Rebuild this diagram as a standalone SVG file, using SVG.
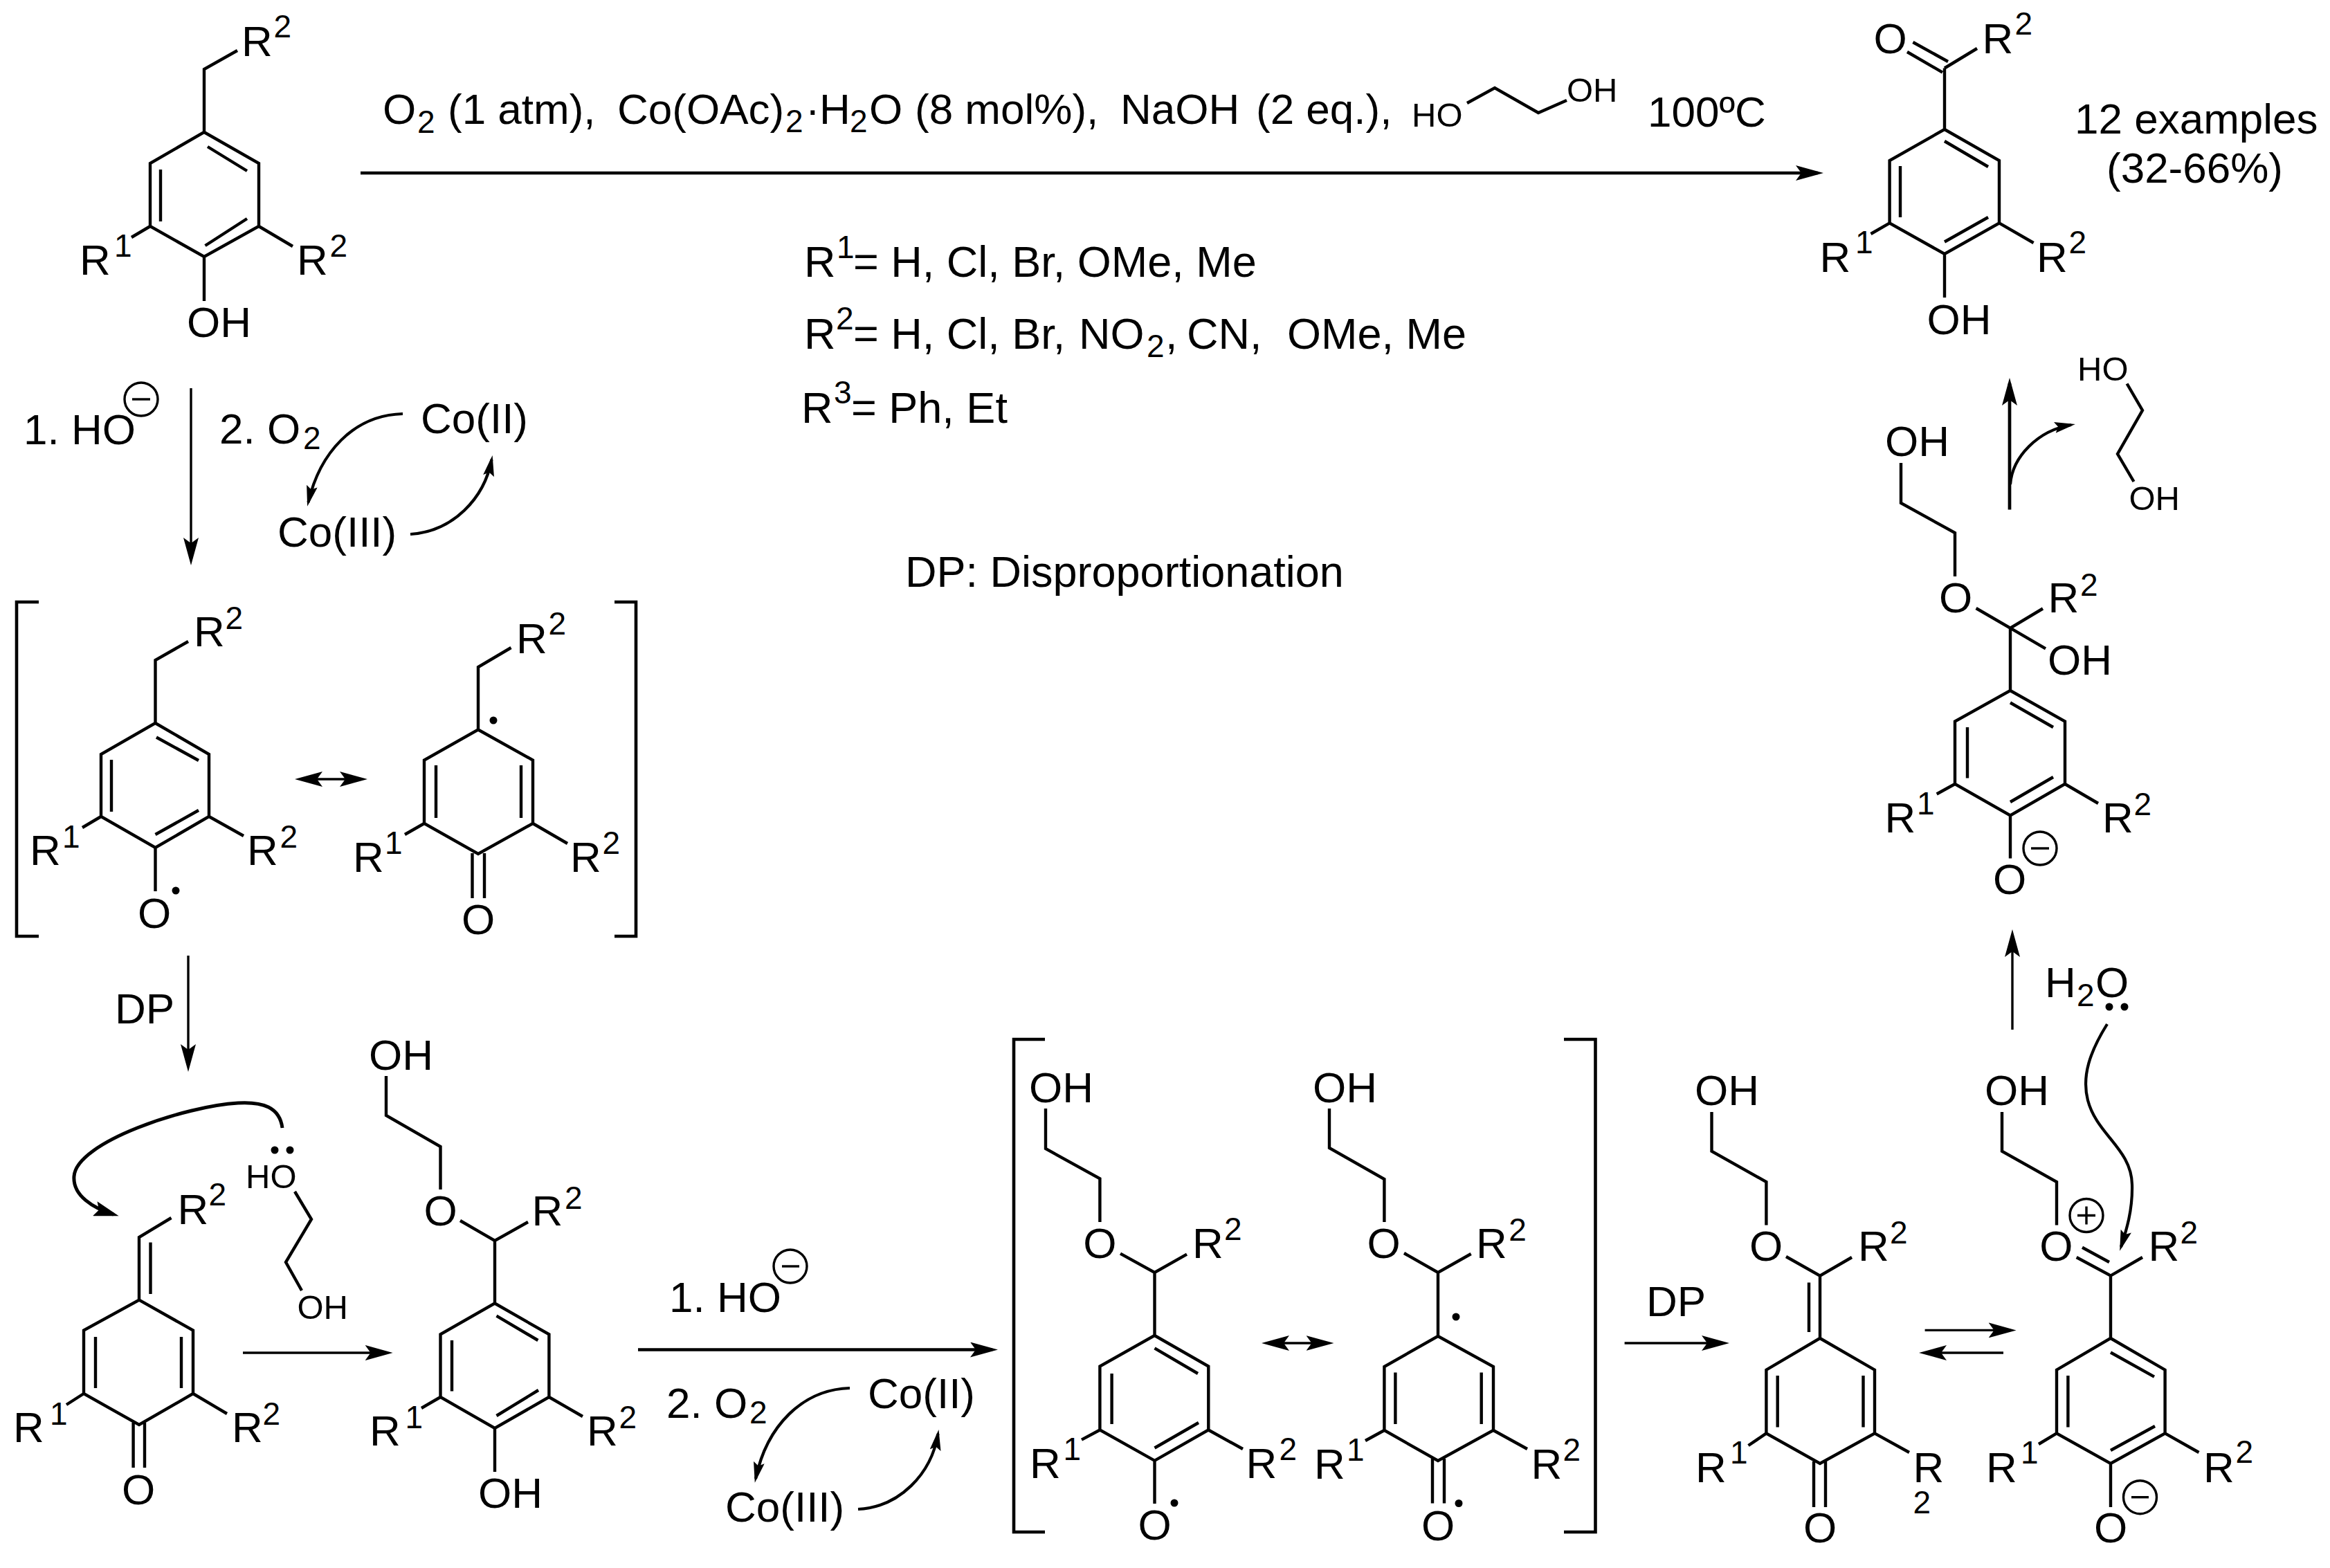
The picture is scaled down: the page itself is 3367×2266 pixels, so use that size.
<svg xmlns="http://www.w3.org/2000/svg" width="3367" height="2266" viewBox="0 0 3367 2266">
<style>
text{font-family:"Liberation Sans",Arial,sans-serif;font-size:62px;fill:#000}
.s{font-size:46px}
.g{font-size:49px}
.n{font-size:63px}
.mid{text-anchor:middle}
.b{fill:none;stroke:#000;stroke-width:4.4}
.k{fill:none;stroke:#000;stroke-width:4.6}
.a{fill:none;stroke:#000;stroke-width:3.4;marker-end:url(#h)}
.a2{fill:none;stroke:#000;stroke-width:3.4;marker-start:url(#h);marker-end:url(#h)}
.at{fill:none;stroke:#000;stroke-width:4.7;marker-end:url(#h)}
.c{fill:none;stroke:#000;stroke-width:4.2;marker-end:url(#m)}
.cl{fill:none;stroke:#000;stroke-width:5;marker-end:url(#l)}
.q{fill:none;stroke:#000;stroke-width:3.4}
</style>
<defs>
<marker id="h" markerUnits="userSpaceOnUse" markerWidth="40" markerHeight="22" refX="32" refY="11" orient="auto-start-reverse"><path d="M40 11L0 0L8 11L0 22Z"/></marker>
<marker id="m" markerUnits="userSpaceOnUse" markerWidth="30" markerHeight="16" refX="24" refY="8" orient="auto"><path d="M30 8L0 0L5 8L0 16Z"/></marker>
<marker id="l" markerUnits="userSpaceOnUse" markerWidth="36" markerHeight="22" refX="28" refY="11" orient="auto"><path d="M36 11L0 0L6 11L0 22Z"/></marker>
</defs>

<g id="connectors">
<path class="a" d="M276 561V809"/>
<path class="a" d="M272 1381V1541"/>
<path class="at" d="M521 250H2627"/>
<path class="a2" d="M434 1126H523"/>
<path class="a" d="M351 1955H559.6"/>
<path class="at" d="M922 1950.5H1434"/>
<path class="a2" d="M1831 1941H1919.5"/>
<path class="a" d="M2347.6 1941H2491"/>
<path class="a" d="M2781.6 1922.4H2905.6"/>
<path class="a" d="M2895 1955H2781"/>
<path class="a" d="M2908 1488V1351"/>
<path class="at" d="M2904 736.5V554"/>
<path class="c" d="M582 598C510 600 462 655 445.500 726"/>
<path class="c" d="M593 772C655 768 700 720 710.500 664"/>
<path class="c" d="M1228 2006C1160 2008 1108 2060 1092 2137"/>
<path class="c" d="M1240 2181C1300 2178 1346 2130 1355.500 2072"/>
<path class="c" d="M2905 700C2908 660 2945 622 2993 614"/>
<path class="c" d="M3045 1480C3020 1520 3008 1555 3017 1590C3030 1640 3080 1660 3081 1712C3082 1750 3072 1780 3065 1802"/>
<path class="cl" d="M408 1630C404 1600 380 1592 344 1594C270 1598 110 1650 107 1700C105 1728 135 1746 164 1755"/>
</g>

<g id="brackets">
<path class="k" d="M56 870H24V1353H56"/>
<path class="k" d="M888 870H919V1353H888"/>
<path class="k" d="M1510 1502H1465V2214H1510"/>
<path class="k" d="M2260 1502H2305.500V2214H2260"/>
</g>

<g id="conditions">
<text y="179"><tspan x="553">O</tspan><tspan class="s" x="603" y="192">2</tspan><tspan x="647" y="179">(1 atm),</tspan><tspan x="892">Co(OAc)</tspan><tspan class="s" x="1135" y="191">2</tspan><tspan x="1164" y="179">·</tspan><tspan x="1184">H</tspan><tspan class="s" x="1228" y="191">2</tspan><tspan x="1256" y="179">O</tspan><tspan x="1322">(8 mol%),</tspan><tspan x="1619">NaOH</tspan><tspan x="1815">(2 eq.),</tspan></text>
<path class="b" d="M2120 149L2160 127L2223 163L2264 145"/>
<text class="g" x="2040" y="183">HO</text>
<text class="g" x="2264" y="147">OH</text>
<text x="2381" y="183">100ºC</text>
<text class="n" y="400"><tspan x="1162">R</tspan><tspan class="s" x="1209" y="373">1</tspan><tspan x="1233" y="400">= H, Cl, Br, OMe, Me</tspan></text>
<text class="n" y="503.500"><tspan x="1162">R</tspan><tspan class="s" x="1208" y="476">2</tspan><tspan x="1233" y="503.500">= H, Cl, Br,</tspan><tspan x="1559">NO</tspan><tspan class="s" x="1657" y="516">2</tspan><tspan x="1684" y="503.500">,</tspan><tspan x="1715">CN,</tspan><tspan x="1860">OMe, Me</tspan></text>
<text class="n" y="610.600"><tspan x="1158">R</tspan><tspan class="s" x="1205" y="583">3</tspan><tspan x="1230" y="610.600">= Ph, Et</tspan></text>
<text class="n" x="1308" y="848">DP: Disproportionation</text>
<text x="2998" y="193">12 examples</text>
<text x="3044" y="264">(32-66%)</text>
</g>

<g id="step1-reagents">
<text y="642"><tspan x="34">1. HO</tspan></text>
<circle class="q" cx="204" cy="577" r="24"/><path class="q" d="M191 577H217"/>
<text y="641"><tspan x="317">2. O</tspan><tspan class="s" x="438" y="649">2</tspan></text>
<text x="608" y="626">Co(II)</text>
<text x="401" y="790">Co(III)</text>
<text x="166" y="1478.500">DP</text>
</g>

<g id="step5-reagents">
<text y="1896.400"><tspan x="967">1. HO</tspan></text>
<circle class="q" cx="1142" cy="1830" r="24"/><path class="q" d="M1130 1830H1155"/>
<text y="2049.400"><tspan x="963">2. O</tspan><tspan class="s" x="1083" y="2057">2</tspan></text>
<text x="1254" y="2035">Co(II)</text>
<text x="1048" y="2199">Co(III)</text>
<text x="2379" y="1902">DP</text>
</g>

<g id="m1">
<path class="b" d="M343 73L295 100V191L217 236V327L295 371L374 327V236L295 191M300 212L357 247M232 245V320M296.500 355L357 316M295 371V435M217 327L190 343M374 327L423 356"/>
<text x="349" y="81">R<tspan class="s" x="395.500" y="54">2</tspan></text>
<text x="115" y="397">R<tspan class="s" x="165" y="371">1</tspan></text>
<text x="429" y="397">R<tspan class="s" x="476.500" y="371">2</tspan></text>
<text x="270" y="486.700">OH</text>
</g>

<g id="m2">
<path class="b" d="M272 927L224.500 954V1045L146 1090V1180L224.500 1225L302 1180V1090L224.500 1045M226 1065.500L287 1099M161 1098V1173M224.500 1206L287 1171M224.500 1225V1288M146 1180L119 1196M302 1180L352 1208"/>
<text x="280" y="934">R<tspan class="s" x="325.500" y="909">2</tspan></text>
<text x="43" y="1250">R<tspan class="s" x="90" y="1225">1</tspan></text>
<text x="357" y="1250">R<tspan class="s" x="404.500" y="1225">2</tspan></text>
<text class="mid" x="223" y="1341">O</text>
<circle cx="254" cy="1287" r="5.500"/>
</g>

<g id="m3">
<path class="b" d="M738.500 936L691 964V1054.500L613 1098.500V1190L691 1234L770 1190V1098.500L691 1054.500M613 1190L585 1206M770 1190L820 1219M630 1106V1182M753 1106V1182M682.500 1233V1298M700 1233V1298"/>
<text x="746" y="943.500">R<tspan class="s" x="792.500" y="917">2</tspan></text>
<text x="510" y="1260">R<tspan class="s" x="556" y="1234">1</tspan></text>
<text x="824" y="1260">R<tspan class="s" x="870.500" y="1234">2</tspan></text>
<text class="mid" x="691" y="1350">O</text>
<circle cx="713" cy="1041" r="5.500"/>
</g>

<g id="m4">
<path class="b" d="M247.500 1760L201 1788V1878.600L121 1922.600V2014L201 2059L279 2014V1922.600L201 1878.600M217.500 1795.500V1870M138 1932V2006M262 1932V2006M121 2014L96 2030M279 2014L328 2043M192.600 2056V2121M209 2056V2121"/>
<text x="256.500" y="1769">R<tspan class="s" x="301.500" y="1742">2</tspan></text>
<text x="19" y="2084">R<tspan class="s" x="72" y="2059">1</tspan></text>
<text x="335" y="2084">R<tspan class="s" x="379.500" y="2059">2</tspan></text>
<text class="mid" x="200" y="2174">O</text>
</g>

<g id="glycol-nucleophile">
<path class="b" d="M426 1722L450 1762L413 1824L436 1865"/>
<text class="g" x="355" y="1717">HO</text>
<text class="g" x="429.500" y="1905.500">OH</text>
<circle cx="397" cy="1662" r="5.500"/><circle cx="419" cy="1662" r="5.500"/>
</g>

<g id="m5">
<path class="b" d="M558 1555V1612L636.500 1657V1719M665 1764L715 1793L763 1766M715 1793V1883.500L636.500 1928.400V2019L715 2064L793.400 2019V1928.400L715 1883.500M717.500 1901.600L777.400 1937M653 1937V2010.500M717.500 2046L778 2009M715 2064V2127M636.500 2019L609 2035M793.400 2019L842 2047"/>
<text x="533" y="1546">OH</text>
<text class="mid" x="636.500" y="1771">O</text>
<text x="768.600" y="1771">R<tspan class="s" x="816" y="1747">2</tspan></text>
<text x="691" y="2179">OH</text>
<text x="534" y="2089">R<tspan class="s" x="585.500" y="2064">1</tspan></text>
<text x="848" y="2089">R<tspan class="s" x="894.500" y="2064">2</tspan></text>
</g>

<g id="m6">
<path class="b" d="M1511 1602V1660L1589.400 1703.400V1766M1619 1811.600L1668.500 1839L1715 1812.600M1668.500 1839V1930L1589.400 1974.500V2066.500L1668.500 2110.800L1746.300 2066.500V1974.500L1668.500 1930M1668.500 1948.400L1731 1985M1606.600 1985V2058M1668.500 2092.500L1732 2056M1668.500 2110.800V2173M1589.400 2066.500L1563 2080.600M1746.300 2066.500L1796 2094"/>
<text x="1487" y="1593">OH</text>
<text class="mid" x="1589.400" y="1818">O</text>
<text x="1723" y="1818">R<tspan class="s" x="1769" y="1792">2</tspan></text>
<text class="mid" x="1668.500" y="2225">O</text>
<circle cx="1697" cy="2172" r="5.500"/>
<text x="1488" y="2136">R<tspan class="s" x="1536.500" y="2110">1</tspan></text>
<text x="1800.600" y="2136">R<tspan class="s" x="1848.500" y="2110">2</tspan></text>
</g>

<g id="m7">
<path class="b" d="M1921 1602V1659L2000.400 1704V1766M2029 1811L2078 1839L2125.700 1812M2078 1839V1931L2000.400 1975V2067L2078 2111L2158 2067V1975L2078 1931M2016.400 1983.500V2058M2140.700 1983.500V2058M2000.400 2067L1973 2082M2158 2067L2207 2094M2070 2108V2172.500M2087 2108V2172.500"/>
<text x="1897" y="1593.400">OH</text>
<text class="mid" x="1999.600" y="1818">O</text>
<text x="2133" y="1818">R<tspan class="s" x="2180.300" y="1793">2</tspan></text>
<circle cx="2104" cy="1903" r="5.500"/>
<text x="1899" y="2136.700">R<tspan class="s" x="1946" y="2111">1</tspan></text>
<text x="2212.500" y="2136.700">R<tspan class="s" x="2258.500" y="2111">2</tspan></text>
<text class="mid" x="2078" y="2226">O</text>
<circle cx="2108" cy="2172.500" r="5.500"/>
</g>

<g id="m8">
<path class="b" d="M2473.500 1607V1663.700L2552.400 1708V1770.600M2581 1816L2630 1843.600L2676 1817M2630 1843.600V1934L2552.400 1979.700V2071.400L2630 2115L2709 2071.400V1979.700L2630 1934M2614 1853.500V1925M2568.700 1988V2062.600M2692.500 1988V2062.600M2552.400 2071.400L2526.500 2089M2709 2071.400L2759 2099M2621 2112V2178M2638 2112V2178"/>
<text x="2449" y="1596.500">OH</text>
<text class="mid" x="2552" y="1822">O</text>
<text x="2685" y="1822">R<tspan class="s" x="2731" y="1797">2</tspan></text>
<text x="2450" y="2141.500">R<tspan class="s" x="2500" y="2115">1</tspan></text>
<text x="2764.400" y="2141.500">R<tspan class="s" x="2764.500" y="2186.500">2</tspan></text>
<text class="mid" x="2630" y="2229">O</text>
</g>

<g id="m9">
<path class="b" d="M2893 1607V1663.700L2972 1708V1770.600M3000.700 1817L3050 1843.600L3096 1817M3009 1802.700L3048 1824M3050 1843.600V1934L2972 1979.700V2071.400L3050 2115L3128.600 2071.400V1979.700L3050 1934M3050 1954.500L3113 1989.600M2988.400 1988V2062.600M3050 2096L3114 2061M3050 2115V2178M2972 2071.400L2946 2087M3128.600 2071.400L3177.500 2099"/>
<text x="2868" y="1596.500">OH</text>
<text class="mid" x="2971.400" y="1822">O</text>
<circle class="q" cx="3015" cy="1756.500" r="24"/><path class="q" d="M3002 1756.500H3028M3015 1743.500V1769.500"/>
<text x="3104.500" y="1822">R<tspan class="s" x="3150.500" y="1797">2</tspan></text>
<text x="2870" y="2141.500">R<tspan class="s" x="2920" y="2115">1</tspan></text>
<text x="3184" y="2141.500">R<tspan class="s" x="3230.500" y="2114">2</tspan></text>
<text class="mid" x="3050" y="2229">O</text>
<circle class="q" cx="3092.500" cy="2163.700" r="24"/><path class="q" d="M3080 2163.700H3105"/>
</g>

<g id="water">
<text y="1440.500"><tspan x="2955">H</tspan><tspan class="s" x="3001" y="1454">2</tspan><tspan x="3028" y="1440.500">O</tspan></text>
<circle cx="3048" cy="1455" r="5.500"/><circle cx="3070" cy="1455" r="5.500"/>
</g>

<g id="m10">
<path class="b" d="M2747 669V727L2825 770V833M2855.600 879L2905 907.600L2952 879.500M2905 907.600L2956 937.400M2905 907.600V998L2825 1042.500V1133L2905 1178.500L2984 1133V1042.500L2905 998M2905 1015.500L2967 1051M2843 1051V1124.600M2905 1159L2967 1123M2905 1178.500V1240.500M2825 1133L2798.700 1147.500M2984 1133L3032 1161"/>
<text x="2724" y="659">OH</text>
<text class="mid" x="2826" y="884.600">O</text>
<text x="2959.600" y="885">R<tspan class="s" x="3006" y="860.500">2</tspan></text>
<text x="2959" y="975">OH</text>
<text class="mid" x="2904" y="1292">O</text>
<circle class="q" cx="2948" cy="1226" r="24"/><path class="q" d="M2935 1226H2961"/>
<text x="2723.400" y="1203">R<tspan class="s" x="2770" y="1177">1</tspan></text>
<text x="3038" y="1203">R<tspan class="s" x="3083.500" y="1178">2</tspan></text>
</g>

<g id="glycol-leaving">
<path class="b" d="M3073.600 554.500L3096 593L3060 656L3083.500 696"/>
<text class="g" x="3002" y="550">HO</text>
<text class="g" x="3076.500" y="736.500">OH</text>
</g>

<g id="product">
<path class="b" d="M2764.400 61L2815 89M2756 75L2807 104.600M2810 98.500L2857 70M2810 98.500V187L2730.600 232V322.400L2810 367L2889 322.400V232L2810 187M2810 204L2873 241M2746 240V314M2810 349.500L2873 314M2810 367V430M2730.600 322.400L2703.500 338M2889 322.400L2938.600 351"/>
<text class="mid" x="2731.500" y="76.500">O</text>
<text x="2864.500" y="76.500">R<tspan class="s" x="2911.500" y="50">2</tspan></text>
<text x="2629.400" y="393">R<tspan class="s" x="2681" y="366">1</tspan></text>
<text x="2943" y="393">R<tspan class="s" x="2989.500" y="366">2</tspan></text>
<text x="2784.600" y="483">OH</text>
</g>
</svg>
